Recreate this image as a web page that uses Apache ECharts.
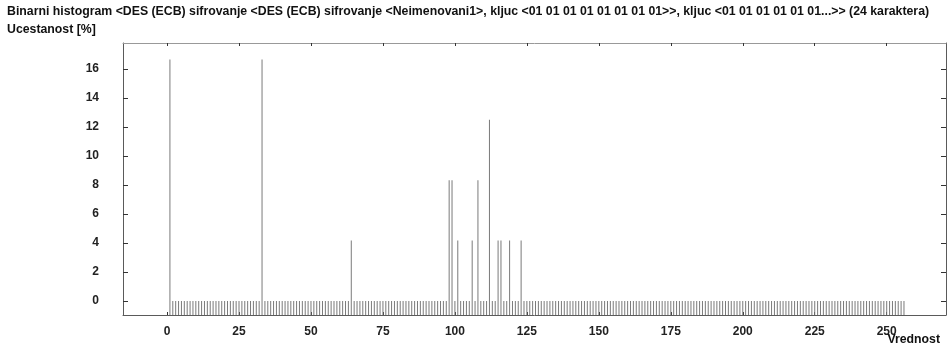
<!DOCTYPE html>
<html>
<head>
<meta charset="utf-8">
<script src="https://cdn.jsdelivr.net/npm/echarts@6/dist/echarts.min.js"></script>
<style>
html,body{margin:0;padding:0;background:#fff;}
#chart{width:950px;height:357px;}
</style>
</head>
<body>
<div id="chart"></div>
<script>
// ---- data ----
const titleText = "Binarni histogram <DES (ECB) sifrovanje <DES (ECB) sifrovanje <Neimenovani1>, kljuc <01 01 01 01 01 01 01 01>>, kljuc <01 01 01 01 01 01...>> (24 karaktera)";
const yAxisTitle = "Ucestanost [%]";
const xAxisTitle = "Vrednost";
// bin values start at position 1
const firstBin = 1;
// frequency (%) for bins 1..256
const frequencies = [
  16.67,0,0,0,0,0,0,0,0,0,0,0,0,0,0,0,
  0,0,0,0,0,0,0,0,0,0,0,0,0,0,0,0,
  16.67,0,0,0,0,0,0,0,0,0,0,0,0,0,0,0,
  0,0,0,0,0,0,0,0,0,0,0,0,0,0,0,4.17,
  0,0,0,0,0,0,0,0,0,0,0,0,0,0,0,0,
  0,0,0,0,0,0,0,0,0,0,0,0,0,0,0,0,
  0,8.33,8.33,0,4.17,0,0,0,0,4.17,0,8.33,0,0,0,12.5,
  0,0,4.17,4.17,0,0,4.17,0,0,0,4.17,0,0,0,0,0,
  0,0,0,0,0,0,0,0,0,0,0,0,0,0,0,0,
  0,0,0,0,0,0,0,0,0,0,0,0,0,0,0,0,
  0,0,0,0,0,0,0,0,0,0,0,0,0,0,0,0,
  0,0,0,0,0,0,0,0,0,0,0,0,0,0,0,0,
  0,0,0,0,0,0,0,0,0,0,0,0,0,0,0,0,
  0,0,0,0,0,0,0,0,0,0,0,0,0,0,0,0,
  0,0,0,0,0,0,0,0,0,0,0,0,0,0,0,0,
  0,0,0,0,0,0,0,0,0,0,0,0,0,0,0,0
];
const xTickValues = [0,25,50,75,100,125,150,175,200,225,250];
const yTickValues = [0,2,4,6,8,10,12,14,16];

// ---- layout ----
const X_MIN = -15.3, X_MAX = 270.6;
const Y_MIN = -0.97, Y_MAX = 17.8;
const FONT = '"Liberation Sans", Arial, sans-serif';
const axisColor = '#5a5a5a';
const barColor = '#7a7a7a';

const xs = frequencies.map((v, i) => firstBin + i);
const baseData = xs.map(x => [x, Y_MIN]);
const valData = xs.map((x, i) => [x, frequencies[i]]);

const labelStyle = {fontFamily: FONT, fontWeight: 'bold', fontSize: 12, color: '#222'};
const titleStyle = {fontFamily: FONT, fontWeight: 'bold', fontSize: 12.3, color: '#111'};

const chart = echarts.init(document.getElementById('chart'), null, {renderer: 'canvas'});
chart.setOption({
  animation: false,
  backgroundColor: '#fff',
  title: [
    {text: titleText, left: 7, top: 6, padding: 0, textStyle: titleStyle},
    {text: yAxisTitle, left: 7, top: 24, padding: 0, textStyle: titleStyle},
    {text: xAxisTitle, right: 10, top: 334, padding: 0, textStyle: titleStyle}
  ],
  grid: {left: 123, right: 4, top: 43, bottom: 42, containLabel: false},
  xAxis: [
    {
      type: 'value', position: 'bottom', min: X_MIN, max: X_MAX,
      axisLine: {show: true, onZero: false, lineStyle: {color: axisColor, width: 1}},
      axisTick: {show: true, inside: true, length: 3, customValues: xTickValues, lineStyle: {color: '#333'}},
      axisLabel: Object.assign({customValues: xTickValues, margin: 11}, labelStyle),
      splitLine: {show: false}
    },
    {
      type: 'value', position: 'top', min: X_MIN, max: X_MAX,
      axisLine: {show: true, onZero: false, lineStyle: {color: '#999', width: 1}},
      axisTick: {show: true, inside: true, length: 3, customValues: xTickValues, lineStyle: {color: '#333'}},
      axisLabel: {show: false},
      splitLine: {show: false}
    }
  ],
  yAxis: [
    {
      type: 'value', position: 'left', min: Y_MIN, max: Y_MAX,
      axisLine: {show: true, onZero: false, lineStyle: {color: axisColor, width: 1}},
      axisTick: {show: true, inside: true, length: 5, customValues: yTickValues, lineStyle: {color: '#333'}},
      axisLabel: Object.assign({customValues: yTickValues, margin: 24}, labelStyle),
      splitLine: {show: false}
    },
    {
      type: 'value', position: 'right', min: Y_MIN, max: Y_MAX,
      axisLine: {show: true, onZero: false, lineStyle: {color: axisColor, width: 1}},
      axisTick: {show: true, inside: true, length: 5, customValues: yTickValues, lineStyle: {color: '#333'}},
      axisLabel: {show: false},
      splitLine: {show: false}
    }
  ],
  series: [
    {
      type: 'bar', stack: 'h', xAxisIndex: 0, yAxisIndex: 0,
      data: baseData, barWidth: 1, itemStyle: {color: barColor}, silent: true
    },
    {
      type: 'bar', stack: 'h', xAxisIndex: 0, yAxisIndex: 0,
      data: valData, barWidth: 1, itemStyle: {color: barColor}, silent: true
    }
  ]
});
</script>
</body>
</html>
